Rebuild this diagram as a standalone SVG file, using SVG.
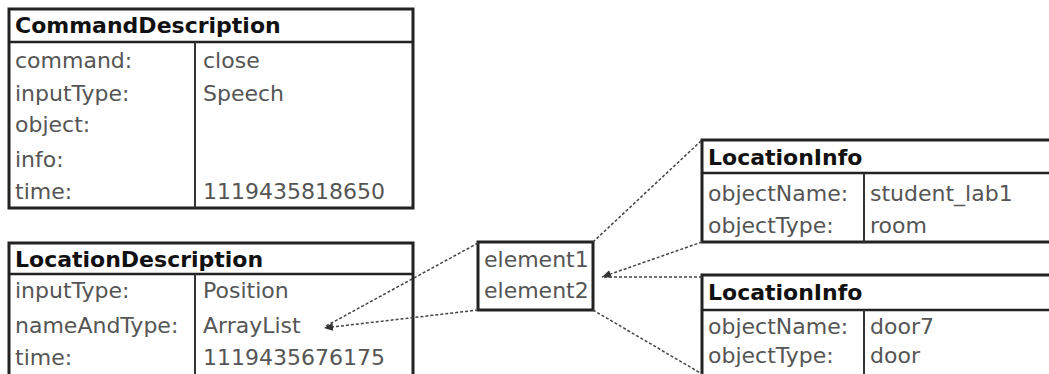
<svg xmlns="http://www.w3.org/2000/svg" width="1049" height="374" viewBox="0 0 1049 374">
<style>
.box{fill:#fff;stroke:#222;stroke-width:3}
.sep{stroke:#222;stroke-width:2.5}
.div{stroke:#333;stroke-width:2}
.hd{font-family:"DejaVu Sans",sans-serif;font-weight:bold;font-size:22px;fill:#111}
.tx{font-family:"DejaVu Sans",sans-serif;font-size:22px;fill:#555}
.cn{fill:none;stroke:#444;stroke-width:1.5;stroke-dasharray:3 2}
</style>
<defs>
<marker id="ah" markerWidth="10" markerHeight="8" refX="9" refY="4" orient="auto" markerUnits="userSpaceOnUse">
<path d="M0,0 L9,4 L0,8 z" fill="#333"/>
</marker>
</defs>
<rect width="1049" height="374" fill="#fff"/>
<g id="commandDescription">
<rect class="box" x="9" y="9" width="404" height="199"/>
<line class="sep" x1="9" y1="42" x2="413" y2="42"/>
<line class="div" x1="195" y1="42" x2="195" y2="208"/>
<text class="hd" x="15" y="33">CommandDescription</text>
<text class="tx" x="15" y="68">command:</text>
<text class="tx" x="203" y="68">close</text>
<text class="tx" x="15" y="101">inputType:</text>
<text class="tx" x="203" y="101">Speech</text>
<text class="tx" x="15" y="132">object:</text>
<text class="tx" x="15" y="167">info:</text>
<text class="tx" x="15" y="199">time:</text>
<text class="tx" x="203" y="199">1119435818650</text>
</g>
<g id="locationDescription">
<rect class="box" x="9" y="243" width="404" height="140"/>
<line class="sep" x1="9" y1="274" x2="413" y2="274"/>
<line class="div" x1="195" y1="274" x2="195" y2="383"/>
<text class="hd" x="15" y="267">LocationDescription</text>
<text class="tx" x="15" y="298">inputType:</text>
<text class="tx" x="203" y="298">Position</text>
<text class="tx" x="15" y="333">nameAndType:</text>
<text class="tx" x="203" y="333">ArrayList</text>
<text class="tx" x="15" y="365">time:</text>
<text class="tx" x="203" y="365">1119435676175</text>
</g>
<g id="arrayList">
<rect class="box" x="478" y="242" width="115" height="68"/>
<text class="tx" x="484" y="267">element1</text>
<text class="tx" x="484" y="298">element2</text>
</g>
<g id="locationInfo1">
<rect class="box" x="702" y="140" width="360" height="102"/>
<line class="sep" x1="702" y1="173" x2="1062" y2="173"/>
<line class="div" x1="864" y1="173" x2="864" y2="242"/>
<text class="hd" x="708" y="165">LocationInfo</text>
<text class="tx" x="708" y="201">objectName:</text>
<text class="tx" x="870" y="201">student_lab1</text>
<text class="tx" x="708" y="233">objectType:</text>
<text class="tx" x="870" y="233">room</text>
</g>
<g id="locationInfo2">
<rect class="box" x="702" y="275" width="360" height="110"/>
<line class="sep" x1="702" y1="310" x2="1062" y2="310"/>
<line class="div" x1="864" y1="310" x2="864" y2="385"/>
<text class="hd" x="708" y="300">LocationInfo</text>
<text class="tx" x="708" y="334">objectName:</text>
<text class="tx" x="870" y="334">door7</text>
<text class="tx" x="708" y="363">objectType:</text>
<text class="tx" x="870" y="363">door</text>
</g>
<g id="connectors">
<line class="cn" x1="478" y1="243" x2="326" y2="326"/>
<line class="cn" x1="478" y1="310" x2="324" y2="328" marker-end="url(#ah)"/>
<line class="cn" x1="593" y1="242" x2="702" y2="140"/>
<line class="cn" x1="593" y1="310" x2="702" y2="374"/>
<line class="cn" x1="702" y1="242" x2="602" y2="277" marker-end="url(#ah)"/>
<line class="cn" x1="702" y1="277" x2="602" y2="277"/>
</g>
</svg>
